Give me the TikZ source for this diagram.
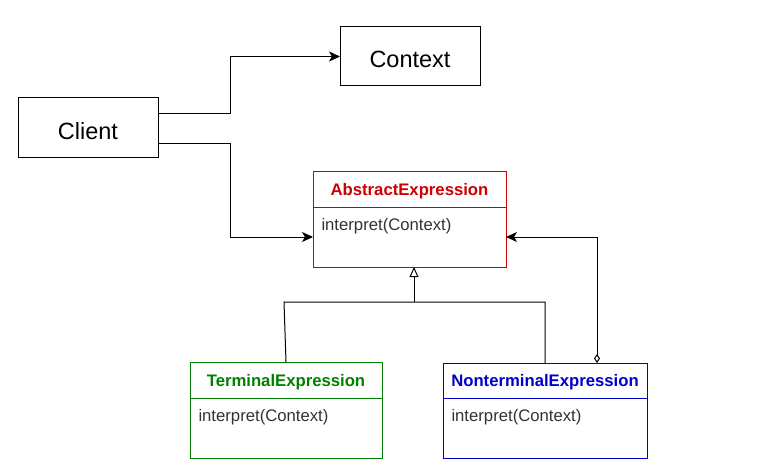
\documentclass[tikz,border=0pt]{standalone}
\usepackage{fontspec}
\setmainfont{Liberation Sans}
\usepackage{xcolor}
\definecolor{absred}{HTML}{CC0000}
\definecolor{termgreen}{HTML}{007F00}
\definecolor{ntblue}{HTML}{0000CC}
\definecolor{optext}{HTML}{333333}
\newcommand{\clsname}[1]{\textbf{#1}}
\usepackage{tikz}
\usetikzlibrary{arrows.meta}
\usetikzlibrary{positioning}

\begin{document}
\begin{tikzpicture}[x=1pt, y=1pt, line width=1pt,
    box/.style={draw, minimum width=140pt, minimum height=60pt, inner sep=0pt, outer sep=0pt,
      text height=23pt, text depth=0pt, font=\fontsize{23.5}{28}\selectfont},
    head/.style={draw=#1, text=#1, minimum height=36pt, inner sep=0pt, outer sep=0pt,
      text height=12pt, text depth=0pt, font=\fontsize{16.7}{20}\selectfont},
    op/.style={font=\fontsize{16.7}{20}\selectfont, text=optext, anchor=north west,
      inner sep=0pt, xshift=8pt, yshift=-10.5pt},
    body/.style={draw=#1, minimum height=60pt, inner sep=0pt, outer sep=0pt,
      label={[op]north west:interpret(Context)}},
    arr/.style={-{Stealth[length=11pt, width=10pt, inset=3pt]}}] % Interpreter

      \useasboundingbox (0,0) rectangle (763,-476);

      \node [box, anchor=north west] (client) at (18,-98) {Client};
      \node [box, anchor=north west, minimum height=59pt] (context) at (340,-27) {Context};

      \node [head=absred, minimum width=193pt, anchor=north west] (ahead) at (313,-171)
        {\clsname{AbstractExpression}};
      \node [body=absred, minimum width=193pt, below=0pt of ahead] (abody) {};

      \node [head=termgreen, minimum width=192pt, anchor=north west] (thead) at (190,-362)
        {\clsname{TerminalExpression}};
      \node [body=termgreen, minimum width=192pt, below=0pt of thead] (tbody) {};

      \node [head=ntblue, minimum width=204pt, minimum height=35pt, anchor=north west] (nhead)
        at (443,-363) {\clsname{NonterminalExpression}};
      \node [body=ntblue, minimum width=204pt, below=0pt of nhead] (nbody) {};

      \draw [arr] ([yshift=14pt]client.east) -- ++(72,0) |- (context.west);
      \draw [arr] ([yshift=-16pt]client.east) -- ++(72,0) |- (abody.west);

      \coordinate (join) at ([xshift=4.5pt, yshift=-35pt]abody.south);
      \draw (thead.north) -- ++(-2,60) -| (nhead.north);
      \draw [-{Triangle[open, length=10pt, width=9pt]}] (join) -- (join |- abody.south);

      \draw [{Diamond[open, fill=white, length=9pt, width=6pt]}-{Stealth[length=11pt, width=10pt, inset=3pt]}]
        ([xshift=52pt]nhead.north) |- (abody.east);

    \end{tikzpicture}
\end{document}
